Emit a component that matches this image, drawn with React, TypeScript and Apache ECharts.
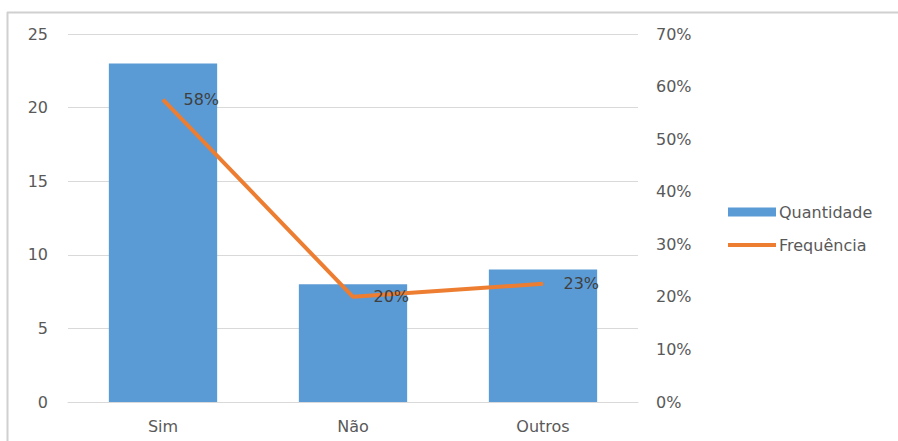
import React, { useEffect, useRef } from "react";
import * as echarts from "echarts";

const categories = ["Sim", "Não", "Outros"];
const quantidade = [23, 8, 9];
const frequencia = [57.5, 20, 22.5]; // percent
const leftTicks = { min: 0, max: 25, interval: 5 };
const rightTicks = { min: 0, max: 70, interval: 10 };

const FONT = "DejaVu Sans";
const TEXT = "#595959";
const GRID = "#D9D9D9";

export default function App() {
  const ref = useRef<HTMLDivElement>(null);

  useEffect(() => {
    document.body.style.margin = "0";
    const chart = echarts.init(ref.current!, null, { renderer: "svg" });
    chart.setOption({
      animation: false,
      backgroundColor: "#ffffff",
      textStyle: { fontFamily: FONT },
      grid: { left: 68, right: 260, top: 34, bottom: 39 },
      legend: {
        orient: "vertical",
        left: 721,
        top: 199,
        itemWidth: 48,
        itemHeight: 9,
        itemGap: 17,
        textStyle: { color: TEXT, fontSize: 16, fontFamily: FONT, padding: [0, 0, 0, -2] },
        data: [
          { name: "Quantidade", icon: "rect" },
          { name: "Frequência", itemStyle: { opacity: 0 }, lineStyle: { width: 4 } },
        ],
      },
      xAxis: {
        type: "category",
        data: categories,
        axisLine: { lineStyle: { color: GRID, width: 1 } },
        axisTick: { show: false },
        axisLabel: { color: TEXT, fontSize: 16, margin: 16 },
      },
      yAxis: [
        {
          type: "value",
          ...leftTicks,
          axisLine: { show: false },
          axisTick: { show: false },
          splitLine: { lineStyle: { color: GRID, width: 1 } },
          axisLabel: { color: TEXT, fontSize: 16, margin: 20 },
        },
        {
          type: "value",
          ...rightTicks,
          position: "right",
          axisLine: { show: false },
          axisTick: { show: false },
          splitLine: { show: false },
          axisLabel: { color: TEXT, fontSize: 16, margin: 18, formatter: "{value}%" },
        },
      ],
      graphic: [
        { type: "line", shape: { x1: 7, y1: 12.5, x2: 898, y2: 12.5 }, style: { stroke: "#D0D0D0", lineWidth: 2 } },
        { type: "line", shape: { x1: 7.5, y1: 12, x2: 7.5, y2: 441 }, style: { stroke: "#D0D0D0", lineWidth: 2 } },
      ],
      series: [
        {
          name: "Quantidade",
          type: "bar",
          data: quantidade,
          barWidth: "57%",
          itemStyle: { color: "#5B9BD5" },
        },
        {
          name: "Frequência",
          type: "line",
          yAxisIndex: 1,
          data: frequencia,
          symbol: "circle",
          symbolSize: 1,
          showSymbol: true,
          lineStyle: { color: "#ED7D31", width: 4 },
          itemStyle: { color: "#ED7D31" },
          label: {
            show: true,
            position: "right",
            distance: 20,
            color: "#404040",
            fontSize: 16,
            formatter: (p: any) => `${Math.round(p.value)}%`,
          },
        },
      ],
    });
    return () => chart.dispose();
  }, []);

  return <div ref={ref} style={{ width: 898, height: 441 }} />;
}
